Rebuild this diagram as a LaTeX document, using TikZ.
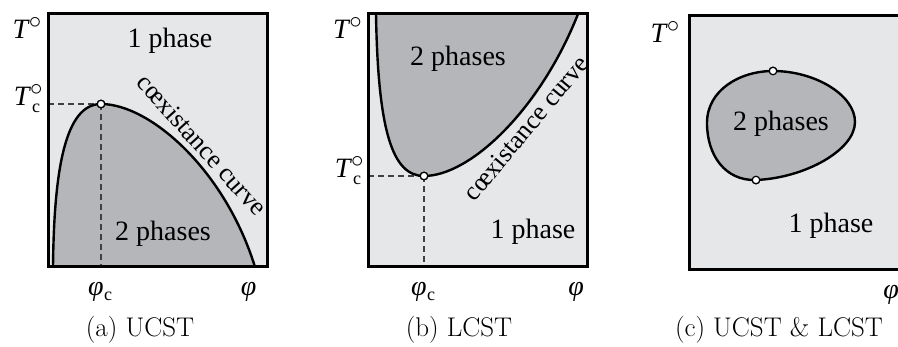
\documentclass[tikz,border=0pt]{standalone}
\usepackage{fontspec}
\newfontfamily\tms{Liberation Serif}
\definecolor{lightbg}{HTML}{E6E7E9}
\definecolor{darkfill}{HTML}{B5B6B9}
\definecolor{guidecol}{HTML}{404040}
\newcommand\degsym{\raisebox{10pt}{\fontsize{24.88}{25}\selectfont$\circ$}}
\newcommand\Tdeg{\textit{T}\kern-1pt\degsym}
\newcommand\Tdegc{\textit{T}\kern-1pt\rlap{\degsym}\kern2pt\raisebox{-7pt}{\fontsize{18}{18}\selectfont c}\kern4pt}
\newcommand\phic{\textit{φ}\kern0.5pt\raisebox{-5pt}{\fontsize{18}{18}\selectfont c}}
\begin{document}
\begin{tikzpicture}[x=1pt,y=-1pt,
  lbl/.style={font=\tms\fontsize{28}{30}\selectfont, inner sep=0pt, anchor=base},
  curvelbl/.style={font=\tms\fontsize{26}{28}\selectfont, inner sep=0pt},
  captxt/.style={font=\fontsize{27}{30}\selectfont, inner sep=0pt, anchor=base},
  frame/.style={line width=3pt},
  curve/.style={line width=2.4pt, line cap=butt},
  guide/.style={line width=1.2pt, dash pattern=on 6pt off 4pt, draw=guidecol},
  crit/.style={circle, draw, fill=white, line width=1.2pt, inner sep=0pt, minimum size=7.5pt}]
\useasboundingbox (0,0) rectangle (898,347);

% ---------------- (a) UCST ----------------
\fill[lightbg] (48,14) rectangle (267,267);
\fill[darkfill] (53,267) .. controls (54,170) and (65,104) .. (101,104)
  .. controls (150,104) and (225,170) .. (255,267) -- cycle;
\coordinate (aTc) at (48,104);
\coordinate (aPc) at (101,267);
\node[crit] (acrit) at (101,104) {};
\draw[guide] (aTc) -- (acrit.center);
\draw[guide] (acrit.center) -- (aPc);
\draw[curve] (53,267) .. controls (54,170) and (65,104) .. (101,104)
  .. controls (150,104) and (225,170) .. (255,267);
\draw[frame] (48,14) rectangle (267,267);
\node[crit] at (acrit) {};
\node[lbl] (aT) at (27,39) {\Tdeg};
\node[lbl] (aTcl) at (29,106) {\Tdegc};
\node[lbl] (aphic) at (100,296) {\phic};
\node[lbl] (aphi) at (248.5,296) {\textit{φ}};
\node[lbl] (a1) at (170,48) {1 phase};
\node[lbl] (a2) at (163,241) {2 phases};
\node[curvelbl, rotate=-48] (acurve) at (202,145) {cœxistance curve};
\node[captxt] (acap) at (140,337) {(a) UCST};

% ---------------- (b) LCST ----------------
\fill[lightbg] (368,14) rectangle (587,267);
\fill[darkfill] (376,14) .. controls (378,130) and (392,176) .. (424,176)
  .. controls (470,176) and (540,110) .. (578,14) -- cycle;
\coordinate (bTc) at (368,176);
\coordinate (bPc) at (424,267);
\node[crit] (bcrit) at (424,176) {};
\draw[guide] (bTc) -- (bcrit.center);
\draw[guide] (bcrit.center) -- (bPc);
\draw[curve] (376,14) .. controls (378,130) and (392,176) .. (424,176)
  .. controls (470,176) and (540,110) .. (578,14);
\draw[frame] (368,14) rectangle (587,267);
\node[crit] at (bcrit) {};
\node[lbl] (bT) at (347.5,39) {\Tdeg};
\node[lbl] (bTcl) at (350,178) {\Tdegc};
\node[lbl] (bphic) at (423,296) {\phic};
\node[lbl] (bphi) at (576,296) {\textit{φ}};
\node[lbl] (b2) at (458,66) {2 phases};
\node[lbl] (b1) at (533,239) {1 phase};
\node[curvelbl, rotate=50] (bcurve) at (526,128) {cœxistance curve};
\node[captxt] (bcap) at (459,337) {(b) LCST};

% ---------------- (c) UCST & LCST ----------------
\fill[lightbg] (689,16) rectangle (908,270);
\coordinate (cL) at (707,123);
\coordinate (cR) at (855,122);
\node[crit] (ctop) at (773,71) {};
\node[crit] (cbot) at (756,180) {};
\fill[darkfill] (cL) .. controls (707,90) and (740,71) .. (ctop.center)
  .. controls (815,71) and (855,95) .. (cR)
  .. controls (855,150) and (805,178) .. (cbot.center)
  .. controls (725,181) and (707,155) .. (cL) -- cycle;
\draw[curve] (cL) .. controls (707,90) and (740,71) .. (ctop.center)
  .. controls (815,71) and (855,95) .. (cR)
  .. controls (855,150) and (805,178) .. (cbot.center)
  .. controls (725,181) and (707,155) .. (cL) -- cycle;
\draw[frame] (689,16) rectangle (908,270);
\node[crit] at (ctop) {};
\node[crit] at (cbot) {};
\node[lbl] (cT) at (665,43) {\Tdeg};
\node[lbl] (cphi) at (891,299) {\textit{φ}};
\node[lbl] (c2) at (781,131) {2 phases};
\node[lbl] (c1) at (831,233) {1 phase};
\node[captxt] (ccap) at (779,337) {(c) UCST \& LCST};
\end{tikzpicture}
\end{document}
